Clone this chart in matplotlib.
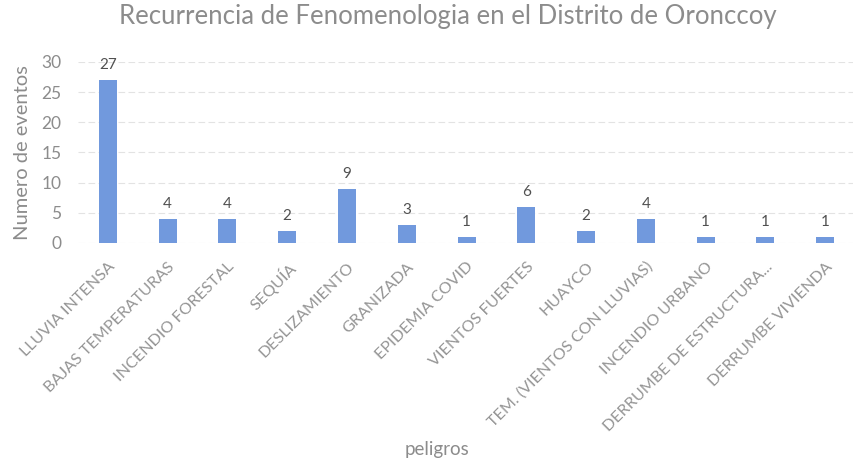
import numpy as np
import matplotlib
matplotlib.use("Agg")
import matplotlib.pyplot as plt

plt.rcParams['font.family'] = ['Lato', 'DejaVu Sans']

peligros = ["LLUVIA INTENSA", "BAJAS TEMPERATURAS", "INCENDIO FORESTAL", "SEQUÍA",
            "DESLIZAMIENTO", "GRANIZADA", "EPIDEMIA COVID", "VIENTOS FUERTES",
            "HUAYCO", "TEM. (VIENTOS CON LLUVIAS)", "INCENDIO URBANO",
            "DERRUMBE DE ESTRUCTURA...", "DERRUMBE VIVIENDA"]
eventos = [27, 4, 4, 2, 9, 3, 1, 6, 2, 4, 1, 1, 1]
yticks = [0, 5, 10, 15, 20, 25, 30]

gris = '#8c8c8c'
fig = plt.figure(figsize=(8.54, 4.61), dpi=100)
ax = fig.add_axes([0.0913, 0.473, 0.91, 0.3926])

x = np.arange(len(peligros))
ax.bar(x, eventos, width=0.3, color='#7199dd', zorder=2)
for xi, v in zip(x, eventos):
    ax.text(xi, v + 1.3, str(v), ha='center', va='bottom', fontsize=11, color='#505050')

ax.set_xlim(-0.5, len(peligros) - 0.5)
ax.set_ylim(0, 30)
ax.set_yticks(yticks)
ax.tick_params(axis='y', colors=gris, labelsize=12.5, length=0, pad=12)
ax.set_xticks(x)
ax.set_xticklabels(peligros, rotation=45, ha='right', rotation_mode='anchor',
                   fontsize=11.6, color='#959595')
ax.tick_params(axis='x', length=0, pad=12)
ax.grid(axis='y', color='#e3e3e3', linewidth=0.8, linestyle=(0, (6, 3)), zorder=0)
for s in ax.spines.values():
    s.set_visible(False)

fig.text(0.026, 0.67, 'Numero de eventos', rotation=90, ha='center', va='center',
         fontsize=14.5, color=gris)
fig.text(0.512, 0.024, 'peligros', ha='center', va='center', fontsize=13.5, color=gris)
fig.text(0.524, 0.965, 'Recurrencia de Fenomenologia en el Distrito de Oronccoy',
         ha='center', va='center', fontsize=18.5, color='#8c8c8c')

fig.savefig('out.png', dpi=100)
